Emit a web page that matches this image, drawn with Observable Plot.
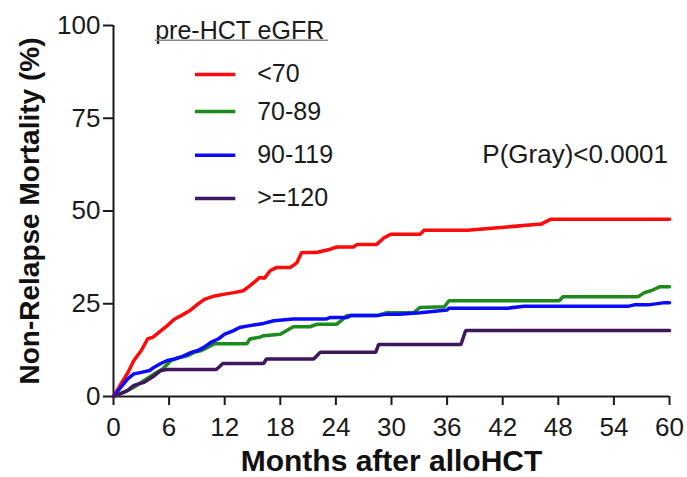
<!DOCTYPE html>
<html>
<head>
<meta charset="utf-8">
<script src="https://cdn.jsdelivr.net/npm/d3@7"></script>
<script src="https://cdn.jsdelivr.net/npm/@observablehq/plot@0.6"></script>
<style>
  html, body { margin: 0; padding: 0; background: #fff; }
  #chart svg { display: block; }
</style>
</head>
<body>
<div id="chart"></div>
<script>
// ---- Data ----
const groups = ["<70", "70-89", "90-119", ">=120"];
const colors = ["#ff0a0a", "#1c8a1c", "#0a0aff", "#40175f"];

const monthsLt70 = [0, 0.8, 1.5, 2.2, 3.0, 3.7, 4.2, 5.1, 5.8, 6.6, 7.3, 8.2, 9.1, 9.8, 10.9, 12.0, 13.0, 14.0, 14.7, 15.8, 16.3, 16.9, 17.6, 19.1, 19.8, 20.3, 21.9, 23.4, 24.1, 25.9, 26.3, 28.4, 29.2, 29.9, 33.1, 33.5, 38.2, 45.8, 46.1, 47.2, 60];
const nrmLt70    = [0, 3.4, 6.2, 9.7, 12.4, 15.6, 15.9, 17.7, 19.1, 20.9, 21.8, 23.1, 24.9, 26.2, 27.1, 27.6, 28.0, 28.5, 29.8, 32.1, 31.9, 33.9, 34.8, 34.8, 36.1, 38.8, 38.8, 39.7, 40.3, 40.3, 41.0, 41.0, 42.8, 43.7, 43.7, 44.8, 44.8, 46.4, 46.4, 47.8, 47.8];

const months70 = [0, 1.2, 2.2, 3.3, 4.4, 5.3, 6.2, 7.1, 8.0, 8.7, 9.5, 10.2, 10.9, 14.4, 14.7, 15.8, 16.2, 18.0, 19.4, 21.2, 22.0, 24.1, 24.8, 25.2, 28.4, 29.5, 32.4, 33.1, 35.7, 36.2, 48.1, 48.5, 56.6, 57.3, 58.0, 59.0, 60];
const nrm70    = [0, 1.2, 2.5, 4.3, 6.1, 7.4, 9.7, 10.6, 11.0, 11.9, 12.4, 13.3, 14.2, 14.2, 15.5, 16.0, 16.4, 16.8, 18.8, 18.8, 19.5, 19.5, 20.9, 21.8, 21.8, 22.6, 22.6, 24.0, 24.2, 25.8, 25.8, 26.9, 26.9, 28.0, 28.5, 29.6, 29.6];

const months90 = [0, 0.8, 1.5, 2.2, 3.0, 3.9, 4.4, 5.1, 5.8, 6.6, 7.3, 8.4, 9.1, 9.8, 10.5, 11.3, 12.0, 12.9, 13.6, 14.7, 16.2, 17.3, 19.4, 23.0, 23.4, 25.2, 25.6, 28.4, 29.5, 30.8, 33.1, 36.0, 36.2, 42.5, 44.3, 55.5, 56.2, 57.7, 59.5, 60];
const nrm90    = [0, 2.5, 4.7, 6.1, 6.5, 7.0, 7.9, 8.9, 9.7, 10.1, 10.6, 11.9, 12.4, 13.3, 14.6, 15.5, 16.8, 17.7, 18.6, 19.1, 19.7, 20.4, 20.9, 20.9, 21.3, 21.3, 21.8, 21.8, 22.2, 22.2, 22.6, 23.3, 23.8, 23.8, 24.3, 24.3, 24.7, 24.7, 25.3, 25.3];

const months120 = [0, 1.5, 2.2, 3.3, 4.4, 5.1, 5.8, 11.1, 11.8, 16.2, 16.5, 21.6, 22.3, 28.3, 28.6, 37.5, 38.0, 60];
const nrm120    = [0, 1.6, 3.0, 3.8, 5.6, 7.0, 7.3, 7.3, 8.9, 8.9, 10.1, 10.1, 11.9, 11.9, 14.0, 14.0, 17.8, 17.8];

const xTicks = [0, 6, 12, 18, 24, 30, 36, 42, 48, 54, 60];
const yTicks = [0, 25, 50, 75, 100];
const xTitle = "Months after alloHCT";
const yTitle = "Non-Relapse Mortality (%)";
const legendTitle = "pre-HCT eGFR";
const pText = "P(Gray)<0.0001";

// ---- Build tables ----
const seriesMonths = [monthsLt70, months70, months90, months120];
const seriesValues = [nrmLt70, nrm70, nrm90, nrm120];
const rows = [];
groups.forEach((g, i) => {
  seriesMonths[i].forEach((m, j) => rows.push({group: g, month: m, value: seriesValues[i][j]}));
});

// legend layout (in chart units)
const legRowY = [86.8, 76.8, 65.0, 53.4];
const legend = groups.map((g, i) => ({group: g, y: legRowY[i]}));

const font = "'Liberation Sans', Arial, Helvetica, sans-serif";

const chart = Plot.plot({
  width: 687,
  height: 477,
  marginLeft: 113,
  marginRight: 18,
  marginTop: 25,
  marginBottom: 81,
  style: {fontFamily: font, fontSize: "26px", color: "#1a1a1a", background: "#fff", overflow: "visible"},
  x: {domain: [0, 60]},
  y: {domain: [0, 100]},
  color: {domain: groups, range: colors},
  marks: [
    Plot.axisX({ticks: xTicks, tickSize: 9, tickPadding: 12, fontSize: 26, label: null, strokeWidth: 2}),
    Plot.axisY({ticks: yTicks, tickSize: 10, tickPadding: 3, fontSize: 26, label: null, strokeWidth: 2}),
    Plot.ruleX([0], {stroke: "#1a1a1a", strokeWidth: 2}),
    Plot.ruleY([0], {stroke: "#1a1a1a", strokeWidth: 2}),
    Plot.line(rows, {x: "month", y: "value", z: "group", stroke: "group", strokeWidth: 3.5, strokeLinejoin: "miter", curve: "linear"}),
    // legend
    Plot.text([legendTitle], {x: 4.5, y: 98.4, text: d => d, textAnchor: "start", fontSize: 25, fill: "#1a1a1a"}),
    Plot.ruleY([96.0], {x1: 4.5, x2: 23.2, stroke: "#8a8a8a", strokeWidth: 1.5}),
    Plot.ruleY(legend, {y: "y", x1: 8.85, x2: 13.2, stroke: "group", strokeWidth: 3.5}),
    Plot.text(legend, {x: 15.5, y: "y", text: "group", textAnchor: "start", fontSize: 25, fill: "#1a1a1a"}),
    Plot.text([pText], {x: 39.8, y: 65.2, text: d => d, textAnchor: "start", fontSize: 26, fill: "#1a1a1a"}),
    // axis titles
    Plot.text([yTitle], {frameAnchor: "left", dx: -83, rotate: -90, textAnchor: "middle", lineAnchor: "middle", text: d => d, fontSize: 28, fontWeight: "bold", fill: "#111"}),
    Plot.text([xTitle], {frameAnchor: "bottom", dy: 65, textAnchor: "middle", lineAnchor: "middle", text: d => d, fontSize: 30, fontWeight: "bold", fill: "#111"})
  ]
});
document.getElementById("chart").appendChild(chart);
</script>
</body>
</html>
